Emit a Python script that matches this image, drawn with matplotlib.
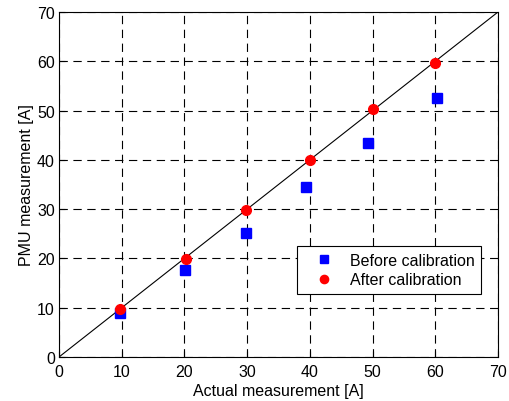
import matplotlib
matplotlib.use("Agg")
import matplotlib.pyplot as plt

plt.rcParams['font.family'] = ['Liberation Sans', 'DejaVu Sans']
plt.rcParams['lines.scale_dashes'] = False

before_x = [9.7, 20.1, 29.8, 39.4, 49.3, 60.2]
before_y = [8.9, 17.6, 25.1, 34.4, 43.4, 52.5]
after_x = [9.8, 20.3, 29.8, 40.1, 50.1, 59.9]
after_y = [9.7, 19.9, 29.8, 40.0, 50.3, 59.6]
ref_line = [0, 70]
ticks = [0, 10, 20, 30, 40, 50, 60, 70]

fig = plt.figure(figsize=(5.09, 4.02), dpi=100)
ax = fig.add_axes([59/509, 44/402, 439/509, 345/402])

ax.plot(ref_line, ref_line, color='black', lw=0.8, zorder=2)
ax.plot(before_x, before_y, 's', color='#0000ff', ms=6.5, mec='#0000ff', label='Before calibration', zorder=3)
ax.plot(after_x, after_y, 'o', color='#ff0000', ms=7, mec='#ff0000', label='After calibration', zorder=4)

ax.set_xlim(0, 70)
ax.set_ylim(0, 70)
ax.set_xticks(ticks)
ax.set_yticks(ticks)
ax.grid(True, color='black', lw=0.8, dashes=(6, 4), zorder=1)
ax.set_axisbelow(True)
ax.tick_params(direction='in', length=4, labelsize=11.5, colors='black')
ax.tick_params(axis='x', pad=5)
ax.tick_params(axis='y', pad=3)
for s in ax.spines.values():
    s.set_linewidth(0.8)
ax.set_xlabel('Actual measurement [A]', fontsize=11.5, labelpad=3)
ax.set_ylabel('PMU measurement [A]', fontsize=11.5, labelpad=2)

leg = ax.legend(loc='lower right', bbox_to_anchor=(0.961, 0.183), fontsize=11.5,
                frameon=True, fancybox=False, edgecolor='black', framealpha=1,
                handlelength=2.6, handletextpad=0.3, borderpad=0.4, labelspacing=0.3,
                borderaxespad=0, markerscale=0.85)
leg.get_frame().set_linewidth(0.8)

fig.savefig('out.png', dpi=100)
